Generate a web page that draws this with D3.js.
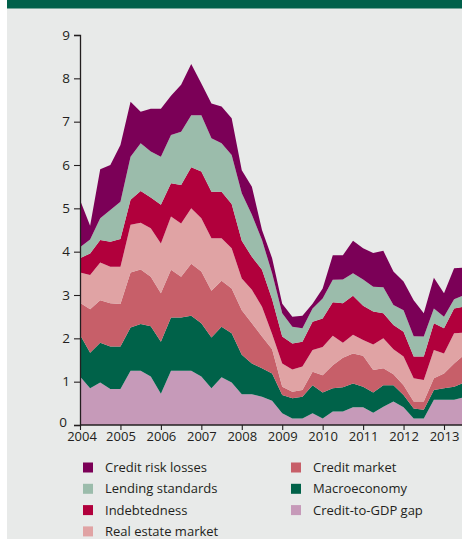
<!DOCTYPE html>
<html>
<head>
<meta charset="utf-8">
<script src="https://cdn.jsdelivr.net/npm/d3@7/dist/d3.min.js"></script>
<style>
  html, body { margin: 0; padding: 0; background: #ffffff; }
  svg { display: block; }
  text { font-family: "Open Sans", "Noto Sans", sans-serif; fill: #231f20; }
</style>
</head>
<body>
<div id="chart"></div>
<script>
// Quarterly observations, 2004 Q1 onwards
const quarters = [
  "2004Q1","2004Q2","2004Q3","2004Q4","2005Q1","2005Q2","2005Q3","2005Q4",
  "2006Q1","2006Q2","2006Q3","2006Q4","2007Q1","2007Q2","2007Q3","2007Q4",
  "2008Q1","2008Q2","2008Q3","2008Q4","2009Q1","2009Q2","2009Q3","2009Q4",
  "2010Q1","2010Q2","2010Q3","2010Q4","2011Q1","2011Q2","2011Q3","2011Q4",
  "2012Q1","2012Q2","2012Q3","2012Q4","2013Q1","2013Q2","2013Q3"
];

// Contribution of each indicator group (stacked bottom to top)
const creditToGdpGap = [1.12,0.85,0.98,0.83,0.83,1.25,1.25,1.12,0.72,1.25,1.25,1.25,1.12,0.85,1.10,0.98,0.71,0.71,0.65,0.56,0.27,0.15,0.15,0.27,0.15,0.31,0.31,0.41,0.41,0.28,0.42,0.54,0.41,0.15,0.15,0.58,0.58,0.58,0.64];
const macroeconomy   = [0.96,0.82,0.92,0.98,0.98,1.00,1.08,1.16,1.20,1.23,1.23,1.27,1.23,1.17,1.17,1.14,0.91,0.71,0.66,0.63,0.42,0.47,0.50,0.65,0.60,0.54,0.56,0.55,0.47,0.47,0.50,0.38,0.28,0.23,0.20,0.23,0.27,0.30,0.34];
const creditMarket   = [0.74,1.00,0.98,1.00,0.98,1.27,1.26,1.14,1.12,1.10,0.94,1.20,1.19,1.08,1.06,1.03,1.03,0.93,0.73,0.56,0.19,0.15,0.16,0.31,0.40,0.53,0.68,0.69,0.72,0.52,0.39,0.25,0.23,0.16,0.19,0.27,0.34,0.54,0.64];
const realEstate     = [0.70,0.79,0.87,0.84,0.86,1.10,1.08,1.12,1.15,1.23,1.23,1.28,1.23,1.21,0.98,0.93,0.73,0.77,0.69,0.35,0.54,0.51,0.54,0.50,0.65,0.68,0.35,0.43,0.36,0.59,0.69,0.58,0.66,0.54,0.50,0.65,0.46,0.70,0.51];
const indebtedness   = [0.33,0.50,0.52,0.58,0.64,0.58,0.73,0.71,0.89,0.77,0.89,0.95,1.08,1.07,1.07,1.02,0.87,0.76,0.85,0.80,0.62,0.60,0.57,0.65,0.66,0.77,0.91,0.90,0.79,0.76,0.58,0.56,0.57,0.50,0.54,0.62,0.58,0.57,0.60];
const lendingStd     = [0.25,0.32,0.50,0.73,0.86,0.99,1.10,1.06,1.11,1.11,1.23,1.20,1.30,1.24,1.12,1.13,1.10,0.97,0.69,0.60,0.54,0.39,0.31,0.31,0.46,0.52,0.55,0.52,0.61,0.57,0.60,0.46,0.50,0.47,0.46,0.34,0.27,0.21,0.27];
const creditRiskLoss = [1.09,0.32,1.13,1.04,1.31,1.27,0.73,0.99,1.11,0.91,1.08,1.18,0.73,0.80,0.85,0.85,0.53,0.65,0.23,0.35,0.22,0.23,0.29,0.11,0.23,0.57,0.56,0.75,0.72,0.78,0.84,0.77,0.66,0.83,0.54,0.71,0.54,0.72,0.63];

const seriesKeys   = ["gap","macro","credit","realEstate","indebt","lending","losses"];
const seriesNames  = ["Credit-to-GDP gap","Macroeconomy","Credit market","Real estate market","Indebtedness","Lending standards","Credit risk losses"];
const seriesColors = ["#c69ab9","#006249","#c75f69","#e0a3a4","#b1003c","#9bbcab","#7b0057"];

const yTicks = [0,1,2,3,4,5,6,7,8,9];
const xTicks = [2004,2005,2006,2007,2008,2009,2010,2011,2012,2013];

// Legend layout: two columns, order as printed
const legendLeft  = ["Credit risk losses","Lending standards","Indebtedness","Real estate market"];
const legendRight = ["Credit market","Macroeconomy","Credit-to-GDP gap"];

const W = 462, H = 539;
const svg = d3.select("#chart").append("svg").attr("width", W).attr("height", H);

// Panel background and header band
svg.append("rect").attr("x", 7).attr("y", 0).attr("width", W - 7).attr("height", H).attr("fill", "#e8eae9");
svg.append("rect").attr("x", 7).attr("y", 0).attr("width", W - 7).attr("height", 8.5).attr("fill", "#00604a");

const toYear = q => +q.slice(0, 4) + (+q.slice(5) - 1) * 0.25;

const rows = quarters.map((q, i) => ({
  t: toYear(q),
  gap: creditToGdpGap[i], macro: macroeconomy[i], credit: creditMarket[i],
  realEstate: realEstate[i], indebt: indebtedness[i], lending: lendingStd[i], losses: creditRiskLoss[i]
}));

const x = d3.scaleLinear().domain([2004, 2013]).range([80, 444]);
const y = d3.scaleLinear().domain([0, 9]).range([425, 35]);

const stacked = d3.stack().keys(seriesKeys)(rows);
const area = d3.area()
  .x(d => x(d.data.t))
  .y0(d => y(d[0]))
  .y1(d => y(d[1]));

svg.append("clipPath").attr("id", "plotClip")
  .append("rect").attr("x", 80).attr("y", 0).attr("width", W - 80).attr("height", 426);

svg.append("g").attr("clip-path", "url(#plotClip)")
  .selectAll("path").data(stacked).join("path")
  .attr("d", area)
  .attr("fill", (d, i) => seriesColors[i]);

// Y axis
const yAxis = svg.append("g").attr("transform", "translate(80,0)")
  .call(d3.axisLeft(y).tickValues(yTicks).tickSize(6).tickPadding(4).tickFormat(d3.format("d")));
yAxis.select(".domain").attr("stroke", "#231f20").attr("stroke-width", 1.3);
yAxis.selectAll(".tick line").attr("stroke", "#231f20").attr("stroke-width", 1.1);
yAxis.selectAll(".tick text").style("font-size", "13.5px").attr("fill", "#231f20");
// the zero label sits in the corner, nudged clear of the first year label
yAxis.selectAll(".tick text").filter(d => d === 0).attr("x", -13).attr("dy", "0.12em");

// X axis
const xAxis = svg.append("g").attr("transform", "translate(0,425)")
  .call(d3.axisBottom(x).tickValues(xTicks).tickSize(5).tickPadding(2).tickFormat(d3.format("d")));
xAxis.select(".domain").attr("d", `M80,0H${W}`).attr("stroke", "#231f20").attr("stroke-width", 1.3);
xAxis.selectAll(".tick line").attr("stroke", "#231f20").attr("stroke-width", 1.1);
xAxis.selectAll(".tick text").style("font-size", "13px").attr("fill", "#231f20");
xAxis.selectAll(".tick text").filter(d => d === 2004).attr("dx", 1.5);

// Legend
const colorOf = name => seriesColors[seriesNames.indexOf(name)];
function legendColumn(names, x0) {
  const g = svg.append("g");
  names.forEach((n, i) => {
    const cy = 467.5 + i * 21.3;
    g.append("rect").attr("x", x0).attr("y", cy - 5).attr("width", 10).attr("height", 10).attr("fill", colorOf(n));
    g.append("text").attr("x", x0 + 22).attr("y", cy).attr("dy", "0.35em")
      .style("font-size", "13px").text(n);
  });
}
legendColumn(legendLeft, 83);
legendColumn(legendRight, 291);
</script>
</body>
</html>
